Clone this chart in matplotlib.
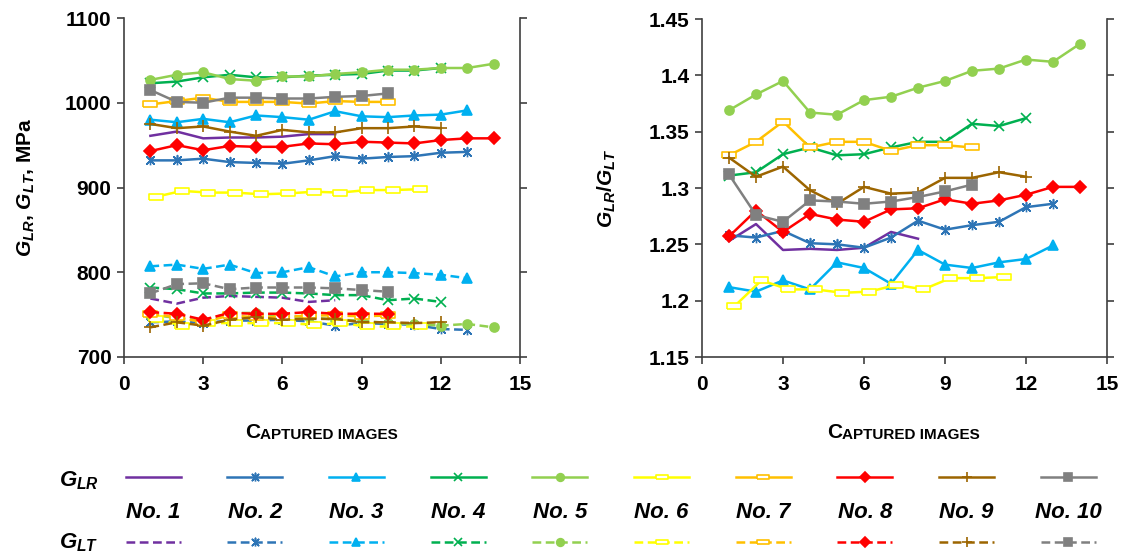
import matplotlib
matplotlib.use('Agg')
import matplotlib.pyplot as plt
from matplotlib.lines import Line2D

plt.rcParams['font.family'] = 'Liberation Sans'
plt.rcParams['font.weight'] = 'bold'
plt.rcParams['mathtext.fontset'] = 'custom'
plt.rcParams['mathtext.it'] = 'Liberation Sans:italic:bold'
plt.rcParams['mathtext.rm'] = 'Liberation Sans:bold'
plt.rcParams['mathtext.bf'] = 'Liberation Sans:bold'

# captured image index (sample No. 6 was logged with a small offset)
images = [1, 2, 3, 4, 5, 6, 7, 8, 9, 10, 11, 12, 13, 14]
images_no6 = [1.2, 2.2, 3.2, 4.2, 5.2, 6.2, 7.2, 8.2, 9.2, 10.2, 11.2]

# G_LR, MPa
glr1 = [961, 966, 958, 959, 959, 960, 963, 963]
glr2 = [932, 932, 934, 930, 929, 928, 932, 937, 934, 936, 937, 941, 942]
glr3 = [980, 977, 981, 977, 985, 983, 980, 990, 984, 983, 985, 986, 991]
glr4 = [1023, 1025, 1030, 1033, 1030, 1030, 1032, 1033, 1034, 1038, 1038, 1041]
glr5 = [1027, 1033, 1036, 1028, 1026, 1031, 1031, 1034, 1036, 1039, 1039, 1041, 1041, 1046]
glr6 = [889, 896, 894, 894, 892, 893, 895, 894, 897, 897, 898]
glr7 = [998, 1002, 1006, 1001, 1001, 1001, 999, 1002, 1001, 1001]
glr8 = [943, 950, 944, 949, 948, 948, 952, 951, 954, 953, 952, 956, 958, 958]
glr9 = [975, 970, 972, 966, 961, 968, 965, 965, 970, 970, 972, 970]
glr10 = [1015, 1001, 1000, 1006, 1006, 1005, 1005, 1007, 1008, 1011]

# G_LT, MPa
glt1 = [769, 763, 770, 772, 771, 770, 765, 767]
glt2 = [741, 742, 740, 743, 743, 744, 742, 737, 740, 739, 738, 733, 732]
glt3 = [807, 809, 804, 809, 799, 800, 806, 795, 800, 800, 799, 797, 793]
glt4 = [782, 780, 775, 775, 776, 776, 775, 773, 773, 767, 769, 765]
glt5 = [750, 746, 743, 752, 752, 748, 747, 744, 743, 740, 739, 737, 739, 735]
glt6 = [745, 737, 740, 740, 740, 740, 738, 740, 736, 736, 736]
glt7 = [751, 747, 741, 749, 747, 747, 749, 749, 748, 749]
glt8 = [753, 751, 744, 752, 751, 751, 753, 751, 751, 751]
glt9 = [735, 741, 737, 744, 747, 744, 745, 745, 741, 741, 740, 741]
glt10 = [775, 786, 787, 780, 782, 782, 782, 781, 779, 777]

# G_LR / G_LT
ratio1 = [1.253, 1.268, 1.245, 1.246, 1.245, 1.247, 1.261, 1.255]
ratio2 = [1.258, 1.256, 1.262, 1.251, 1.250, 1.247, 1.256, 1.271, 1.263, 1.267, 1.270, 1.283, 1.286]
ratio3 = [1.212, 1.208, 1.218, 1.210, 1.234, 1.229, 1.215, 1.245, 1.232, 1.229, 1.234, 1.237, 1.249]
ratio4 = [1.311, 1.314, 1.330, 1.336, 1.329, 1.330, 1.336, 1.341, 1.341, 1.357, 1.355, 1.362]
ratio5 = [1.369, 1.383, 1.395, 1.367, 1.365, 1.378, 1.381, 1.389, 1.395, 1.404, 1.406, 1.414, 1.412, 1.428]
ratio6 = [1.195, 1.218, 1.210, 1.210, 1.207, 1.208, 1.214, 1.210, 1.220, 1.220, 1.221]
ratio7 = [1.329, 1.341, 1.359, 1.336, 1.341, 1.341, 1.333, 1.338, 1.338, 1.336]
ratio8 = [1.257, 1.280, 1.261, 1.277, 1.272, 1.270, 1.281, 1.282, 1.290, 1.286, 1.289, 1.294, 1.301, 1.301]
ratio9 = [1.327, 1.310, 1.319, 1.298, 1.286, 1.301, 1.295, 1.296, 1.309, 1.309, 1.314, 1.310]
ratio10 = [1.312, 1.276, 1.270, 1.289, 1.288, 1.286, 1.288, 1.292, 1.297, 1.303]

sample_names = ['No. 1', 'No. 2', 'No. 3', 'No. 4', 'No. 5',
                'No. 6', 'No. 7', 'No. 8', 'No. 9', 'No. 10']
glr_all = [glr1, glr2, glr3, glr4, glr5, glr6, glr7, glr8, glr9, glr10]
glt_all = [glt1, glt2, glt3, glt4, glt5, glt6, glt7, glt8, glt9, glt10]
ratio_all = [ratio1, ratio2, ratio3, ratio4, ratio5, ratio6, ratio7, ratio8, ratio9, ratio10]

# styling
colors = ['#7030A0', '#2E75B6', '#00B0F0', '#00B050', '#92D050',
          '#FFFF00', '#FFC000', '#FF0000', '#9C6500', '#808080']
star = [(0, -1), (0, 1), (0, 0), (-0.75, -0.75), (0.75, 0.75), (0, 0),
        (-0.75, 0.75), (0.75, -0.75), (0, 0)]
bar = [(-1, -0.38), (1, -0.38), (1, 0.38), (-1, 0.38), (-1, -0.38)]
markers = [None, star, '^', 'x', 'o', bar, bar, 'D', '+', 's']
msizes = [0, 7, 6.5, 6.5, 6.5, 9.5, 9.5, 6.5, 8, 6.5]
mfcs = [None, None, None, None, None, 'white', 'white', None, None, None]
dashed = (0, (3.5, 1.8))
lw = 1.8


def style(k, scale=1.0):
    d = dict(color=colors[k], lw=lw, ms=msizes[k] * scale, mew=1.2)
    if markers[k] is not None:
        d['marker'] = markers[k]
    if mfcs[k] is not None:
        d['mfc'] = mfcs[k]
    return d


def xs_for(k, n):
    return images_no6[:n] if k == 5 else images[:n]


fig = plt.figure(figsize=(11.25, 5.54), dpi=100)
W, H = 1125.0, 554.0
ax1 = fig.add_axes([124 / W, 1 - 357 / H, 396 / W, 339 / H])
ax2 = fig.add_axes([702 / W, 1 - 357 / H, 405 / W, 338 / H])

for k in range(10):
    ax1.plot(xs_for(k, len(glr_all[k])), glr_all[k], ls='-', **style(k))
for k in range(10):
    ax1.plot(xs_for(k, len(glt_all[k])), glt_all[k], ls=dashed, **style(k))
for k in range(10):
    ax2.plot(xs_for(k, len(ratio_all[k])), ratio_all[k], ls='-', **style(k))

axis_col = '#404040'
for ax in (ax1, ax2):
    ax.set_xlim(0, 15)
    ax.set_xticks([0, 3, 6, 9, 12, 15])
    ax.spines['top'].set_visible(False)
    for s in ('left', 'right', 'bottom'):
        ax.spines[s].set_color(axis_col)
        ax.spines[s].set_linewidth(1.2)
    ax.tick_params(direction='out', length=5, width=1.2, color=axis_col,
                   labelsize=15, right=True, pad=4)
    ax.tick_params(axis='x', pad=8)
    for lab in ax.get_xticklabels() + ax.get_yticklabels():
        lab.set_fontweight('bold')

ax1.set_ylim(700, 1100)
ax1.set_yticks([700, 800, 900, 1000, 1100])
ax2.set_ylim(1.15, 1.45)
ax2.set_yticks([1.15, 1.2, 1.25, 1.3, 1.35, 1.4, 1.45])
ax2.set_yticklabels(['1.15', '1.2', '1.25', '1.3', '1.35', '1.4', '1.45'])

ax1.set_ylabel(r'$G_{LR}$, $G_{LT}$, MPa', fontsize=15, fontweight='bold', labelpad=20)
ax2.set_ylabel(r'$G_{LR}$/$G_{LT}$', fontsize=15, fontweight='bold', labelpad=22)


# small-caps x label
def smallcaps(x_px, y_px):
    t = fig.text(x_px / W, 1 - y_px / H, 'C', fontsize=15, fontweight='bold',
                 ha='left', va='bottom')
    fig.texts.append(plt.Annotation('APTURED IMAGES', xy=(1, 0), xycoords=t,
                                    fontsize=11, fontweight='bold',
                                    ha='left', va='bottom'))
    fig.texts[-1].set_figure(fig)


smallcaps(245, 442)
smallcaps(827, 442)

# legend block
fs_leg = 10.0
fs_px = fs_leg * 100 / 72
pitch = 101.7
handle_px = 55
first_center = 153
solid_handles = [Line2D([], [], ls='-', **style(k, 0.85)) for k in range(10)]
dash_handles = [Line2D([], [], ls=dashed, **style(k, 0.85)) for k in range(10)]
for handles, y_px in ((solid_handles, 478), (dash_handles, 543)):
    fig.legend(handles=handles, labels=[''] * 10, ncol=10, frameon=False,
               fontsize=fs_leg, handlelength=handle_px / fs_px,
               handletextpad=0, columnspacing=(pitch - handle_px) / fs_px,
               borderpad=0, borderaxespad=0, numpoints=1,
               loc='center left',
               bbox_to_anchor=((first_center - handle_px / 2) / W, 1 - y_px / H))

for k, name in enumerate(sample_names):
    fig.text((first_center + pitch * k) / W, 1 - 512 / H, name, fontsize=16,
             fontweight='bold', style='italic', ha='center', va='center')

fig.text(59 / W, 1 - 481 / H, r'$G_{LR}$', fontsize=16, ha='left', va='center')
fig.text(59 / W, 1 - 543 / H, r'$G_{LT}$', fontsize=16, ha='left', va='center')

fig.savefig('out.png', dpi=100)
